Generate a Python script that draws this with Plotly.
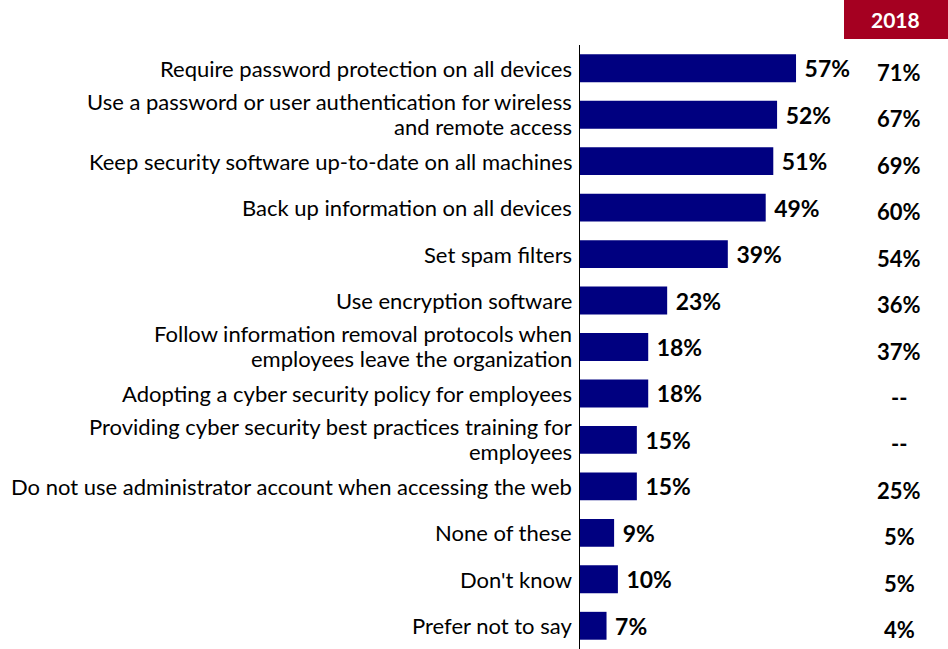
import plotly.graph_objects as go

categories = [
    "Require password protection on all devices",
    "Use a password or user authentication for wireless<br>and remote access",
    "Keep security software up-to-date on all machines",
    "Back up information on all devices",
    "Set spam filters",
    "Use encryption software",
    "Follow information removal protocols when<br>employees leave the organization",
    "Adopting a cyber security policy for employees",
    "Providing cyber security best practices training for<br>employees",
    "Do not use administrator account when accessing the web",
    "None of these",
    "Don't know",
    "Prefer not to say",
]
values_current = [57, 52, 51, 49, 39, 23, 18, 18, 15, 15, 9, 10, 7]
values_2018 = ["71%", "67%", "69%", "60%", "54%", "36%", "37%", "--", "--", "25%", "5%", "5%", "4%"]
header_2018 = "2018"

W, H = 948, 649
FONT = "Lato"
NAVY = "#000080"
RED = "#A50021"

x0_px = 580
top_px = 45
px_per_pct = 3.79
x_max = (W - x0_px) / px_per_pct
LINE_GAP = 25  # px between wrapped label lines

fig = go.Figure()
fig.add_trace(go.Bar(
    x=values_current,
    y=categories,
    orientation="h",
    marker=dict(color=NAVY, line=dict(width=0)),
    width=0.6,
    text=[f"\u00a0{v}%" for v in values_current],
    textposition="outside",
    textfont=dict(family=FONT, size=23, color="#000000", weight="bold"),
    cliponaxis=False,
    hoverinfo="skip",
))

# Category labels, right-aligned against the axis, with tighter line spacing
for cat in categories:
    lines = cat.split("<br>")
    n = len(lines)
    for i, line in enumerate(lines):
        shift = ((n - 1) / 2 - i) * LINE_GAP + (1 if n > 1 else 0)
        fig.add_annotation(
            x=574 / W, xref="paper", y=cat, yref="y",
            text=line, showarrow=False, xanchor="right", yanchor="middle",
            yshift=shift,
            font=dict(family=FONT, size=22, color="#000000"),
        )

# 2018 comparison column
for cat, v in zip(categories, values_2018):
    fig.add_annotation(
        x=899 / W, xref="paper", y=cat, yref="y",
        text=v, showarrow=False, xanchor="center", yanchor="middle",
        yshift=-4,
        font=dict(family=FONT, size=22, color="#000000", weight="bold"),
    )

# 2018 header box
fig.add_shape(type="rect", xref="paper", yref="paper",
              x0=844 / W, x1=1.0, y0=1 - 39 / H, y1=1.0,
              fillcolor=RED, line=dict(width=0), layer="below")
fig.add_annotation(
    x=895 / W, xref="paper", y=1 - 20 / H, yref="paper",
    text=header_2018, showarrow=False, xanchor="center", yanchor="middle",
    font=dict(family=FONT, size=21, color="#ffffff", weight="bold"),
)

fig.update_layout(
    width=W, height=H,
    margin=dict(l=0, r=0, t=0, b=0),
    paper_bgcolor="white", plot_bgcolor="white",
    showlegend=False,
    bargap=0.4,
    xaxis=dict(domain=[x0_px / W, 1.0], range=[0, x_max],
               showgrid=False, zeroline=False, showticklabels=False,
               showline=False, fixedrange=True),
    yaxis=dict(domain=[0, 1 - top_px / H], autorange=False,
               range=[len(categories) - 0.5, -0.5],
               categoryorder="array", categoryarray=categories,
               showgrid=False, zeroline=False, showticklabels=False,
               showline=True, linecolor="#000000", linewidth=1,
               ticks="", automargin=False, fixedrange=True),
)

fig.write_html("out.html")
